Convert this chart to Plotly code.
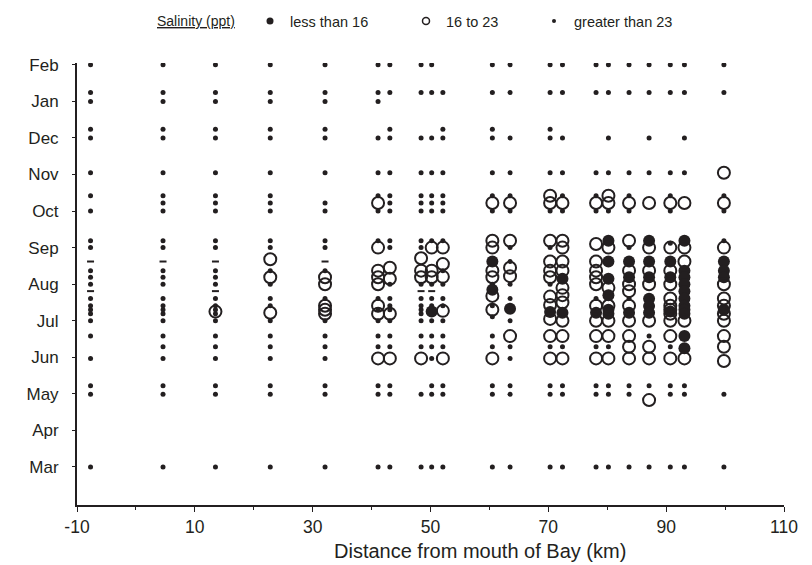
import plotly.graph_objects as go

# ---------------- data ----------------
month_labels = ["Mar", "Apr", "May", "Jun", "Jul", "Aug", "Sep", "Oct", "Nov", "Dec", "Jan", "Feb"]
month_pos = list(range(12))  # Mar = 0 ... Feb = 11

x_tick_vals = [-10, 10, 30, 50, 70, 90, 110]

# survey dates, expressed as month position (Mar = 0)
date_codes = ["F", "J1", "J2", "D1", "D2", "N", "O1", "O2", "O3", "S1", "S2",
              "A0", "A1", "A2", "A3", "A4", "U1", "U2", "U3", "U4", "U5",
              "E0", "E1", "E2", "Y1", "Y2", "MR"]
date_values = [11.0, 10.24, 10.0, 9.24, 9.0, 8.05, 7.42, 7.22, 7.0, 6.19, 6.0,
               5.62, 5.37, 5.19, 5.0, 4.81, 4.61, 4.41, 4.30, 4.19, 4.0,
               3.58, 3.29, 2.97, 2.22, 1.99, 0.0]

# salinity greater than 23 ppt  (station km, survey dates)
high_salinity = [
    (-7.7, "F J1 J2 D1 D2 N O1 O3 S1 S2 A1 A2 A3 U1 U2 U3 U4 U5 E0 E2 Y1 Y2 MR"),
    (4.6,  "F J1 J2 D1 D2 N O1 O2 O3 S1 S2 A1 A2 A3 U1 U2 U3 U4 U5 E0 E1 E2 Y1 Y2 MR"),
    (13.5, "F J1 J2 D1 D2 N O1 O2 O3 S1 S2 A1 A2 A3 U1 U2 U3 U4 U5 E0 E1 E2 Y1 Y2 MR"),
    (22.8, "F J1 J2 D1 D2 N O1 O2 O3 S1 S2 A1 A3 U1 U2 U5 E0 E1 E2 Y1 Y2 MR"),
    (32.1, "F J1 J2 D1 D2 N O2 O3 S1 S2 A1 U1 U5 E0 E1 E2 Y1 Y2 MR"),
    (41.1, "F J1 J2 D2 N O1 O3 S1 U1 U3 U5 E0 E1 Y1 Y2 MR"),
    (43.1, "F J1 D1 D2 N O1 O2 O3 S1 S2 A3 U1 U2 U3 U5 E0 E1 Y1 Y2 MR"),
    (48.4, "F J1 D2 N O1 O2 O3 S1 S2 A3 U1 U2 U3 U4 U5 E0 E1 Y2 MR"),
    (50.2, "F J1 D2 N O1 O2 O3 S1 A3 U1 U2 U5 E0 E1 E2 Y1 Y2 MR"),
    (52.1, "J1 D1 D2 N O1 O2 O3 S1 A1 A3 U1 U2 U5 E0 E1 Y1 Y2 MR"),
    (60.5, "F J1 D1 D2 N O1 O3 A3 U2 4.11 E0 E1 Y1 Y2 MR"),
    (63.5, "F J1 D2 N O1 O3 S2 A0 A3 U1 U5 E1 E2 Y1 Y2 MR"),
    (70.3, "F J1 D1 D2 N O3 S2 A3 E1 Y1 Y2 MR"),
    (72.4, "F J1 D2 N O1 O3 E1 Y1 Y2 MR"),
    (78.1, "F J1 N O1 O3 U1 E1 Y1 Y2 MR"),
    (80.2, "F J1 D2 N O3 E1 Y1 Y2 MR"),
    (83.7, "F J1 N O1 O3 S2 U1 Y1 Y2 MR"),
    (87.1, "F J1 D2 N E0 Y1 MR"),
    (90.7, "F J1 N O1 O3 6.12 E1 Y1 Y2 MR"),
    (93.1, "F J1 D2 N Y1 Y2 MR"),
    (99.8, "F J1 O1 O3 S1 Y2 MR"),
]

# salinity 16 to 23 ppt
mid_salinity = [
    (13.5, "4.25"),
    (22.8, "5.68 A2 4.22"),
    (32.1, "A2 A3 U2 U3 U4"),
    (41.1, "O2 S2 A1 A2 A3 U2 U4 E2"),
    (43.1, "5.45 5.15 U4 E2"),
    (48.4, "5.71 A1 A2 E2"),
    (50.2, "S2 A1 A2"),
    (52.1, "S2 5.55 5.2 4.27 E2"),
    (60.5, "O2 S1 S2 A1 A2 4.68 U3 E2"),
    (63.5, "O2 S1 5.45 5.22 E0"),
    (70.3, "O1 O2 S1 A0 A1 A2 4.66 4.43 4.05 E0 E2"),
    (72.4, "O2 S1 S2 A0 A1 4.9 4.7 4.5 U5 E0 E2"),
    (78.1, "O2 6.1 A0 A1 A2 A3 U2 U5 E0 E2"),
    (80.2, "O1 O2 S2 4.9 U2 U5 E0 E2"),
    (83.7, "O2 S1 A1 A3 A4 U2 U5 E0 E1 E2"),
    (87.1, "O2 S2 A1 A3 U5 E1 E2 1.83"),
    (90.7, "O2 S2 A1 A3 U1 U2 U3 U4 U5 E0 E2"),
    (93.1, "O2 S2 A0 U5 E2"),
    (99.8, "N O2 S2 A3 U1 U2 U4 U5 E0 E1 2.9"),
]

# salinity less than 16 ppt
low_salinity = [
    (50.2, "4.25"),
    (60.5, "A0 4.85"),
    (63.5, "4.33"),
    (70.3, "4.24"),
    (72.4, "5.15 4.22"),
    (78.1, "4.22"),
    (80.2, "S1 A0 5.15 4.7 U3 U4"),
    (83.7, "A0 A2 4.22"),
    (87.1, "S1 A0 A2 4.6 4.4 4.22"),
    (90.7, "A0 A2 4.25"),
    (93.1, "S1 A1 A2 A3 A4 U1 U2 U3 U4 E0 3.25"),
    (99.8, "A0 A1 A2 U3"),
]

# short dash marks seen in the original
dash_marks = [
    (-7.7, "A0 A4"),
    (4.6, "A0"),
    (13.5, "A0 A4"),
    (32.1, "A0"),
    (48.4, "A4"),
    (50.2, "A4"),
]

legend_labels = ["less than 16", "16 to 23", "greater than 23"]
legend_title = "Salinity (ppt)"
x_title = "Distance from mouth of Bay (km)"

# ---------------- helpers ----------------
date_lookup = dict(zip(date_codes, date_values))


def expand(records):
    xs, ys = [], []
    for km, codes in records:
        for c in codes.split():
            xs.append(km)
            ys.append(date_lookup[c] if c in date_lookup else float(c))
    return xs, ys


INK = "#231f20"
FONT = "Liberation Sans, Arial, sans-serif"

fig = go.Figure()

dx, dy = expand(dash_marks)
fig.add_trace(go.Scatter(x=dx, y=dy, mode="markers", showlegend=False, hoverinfo="skip",
                         marker=dict(symbol="line-ew", size=5, color=INK,
                                     line=dict(width=2, color=INK))))

hx, hy = expand(high_salinity)
fig.add_trace(go.Scatter(x=hx, y=hy, mode="markers", showlegend=False,
                         marker=dict(symbol="circle", size=5, color=INK)))

lx, ly = expand(low_salinity)
fig.add_trace(go.Scatter(x=lx, y=ly, mode="markers", showlegend=False,
                         marker=dict(symbol="circle", size=12, color=INK)))

mx, my = expand(mid_salinity)
fig.add_trace(go.Scatter(x=mx, y=my, mode="markers", showlegend=False,
                         marker=dict(symbol="circle-open", size=12, color=INK,
                                     line=dict(width=2, color=INK))))

# legend-only entries
fig.add_trace(go.Scatter(x=[None], y=[None], mode="markers", name=legend_labels[0],
                         legend="legend",
                         marker=dict(symbol="circle", size=7, color=INK)))
fig.add_trace(go.Scatter(x=[None], y=[None], mode="markers", name=legend_labels[1],
                         legend="legend2",
                         marker=dict(symbol="circle-open", size=7, color=INK,
                                     line=dict(width=1.5, color=INK))))
fig.add_trace(go.Scatter(x=[None], y=[None], mode="markers", name=legend_labels[2],
                         legend="legend3",
                         marker=dict(symbol="circle", size=4, color=INK)))

L, R, T, B = 77, 28, 63, 60
W, H = 812, 565
pw, ph = W - L - R, H - T - B


def px_x(p):
    return (p - L) / pw


def px_y(p):
    return 1 + (T - p) / ph


legend_common = dict(orientation="h", yanchor="middle", xanchor="left",
                     bgcolor="rgba(0,0,0,0)", borderwidth=0,
                     font=dict(family=FONT, size=14.5, color=INK))

fig.update_layout(
    width=W, height=H,
    margin=dict(l=L, r=R, t=T, b=B, autoexpand=False),
    paper_bgcolor="white", plot_bgcolor="white",
    font=dict(family=FONT, color=INK),
    legend=dict(x=px_x(250), y=px_y(21), **legend_common),
    legend2=dict(x=px_x(406), y=px_y(21), **legend_common),
    legend3=dict(x=px_x(534), y=px_y(21), **legend_common),
    annotations=[
        dict(text="<u>" + legend_title + "</u>", xref="paper", yref="paper",
             x=px_x(196), y=px_y(21), xanchor="center", yanchor="middle",
             showarrow=False, font=dict(family=FONT, size=14, color=INK)),
        dict(text=x_title, xref="paper", yref="paper",
             x=px_x(480), y=px_y(551), xanchor="center", yanchor="middle",
             showarrow=False, font=dict(family=FONT, size=20, color=INK)),
    ],
    xaxis=dict(
        range=[-10, 110], tickvals=x_tick_vals, ticktext=[str(v) for v in x_tick_vals],
        showgrid=False, zeroline=False, showline=True, linecolor=INK, linewidth=1.5,
        ticks="outside", ticklen=5, tickwidth=1.3, tickcolor=INK,
        minor=dict(ticks="outside", ticklen=3, tickwidth=1, tickcolor=INK, dtick=10, tick0=0),
        tickfont=dict(family=FONT, size=17.5, color=INK),
    ),
    yaxis=dict(
        range=[-1.04, 11.05], tickvals=month_pos, ticktext=month_labels,
        showgrid=False, zeroline=False, showline=True, linecolor=INK, linewidth=2,
        ticks="outside", ticklen=3, tickwidth=1, tickcolor=INK,
        ticklabelstandoff=10,
        tickfont=dict(family=FONT, size=17, color=INK),
    ),
)

fig.write_html("out.html")
